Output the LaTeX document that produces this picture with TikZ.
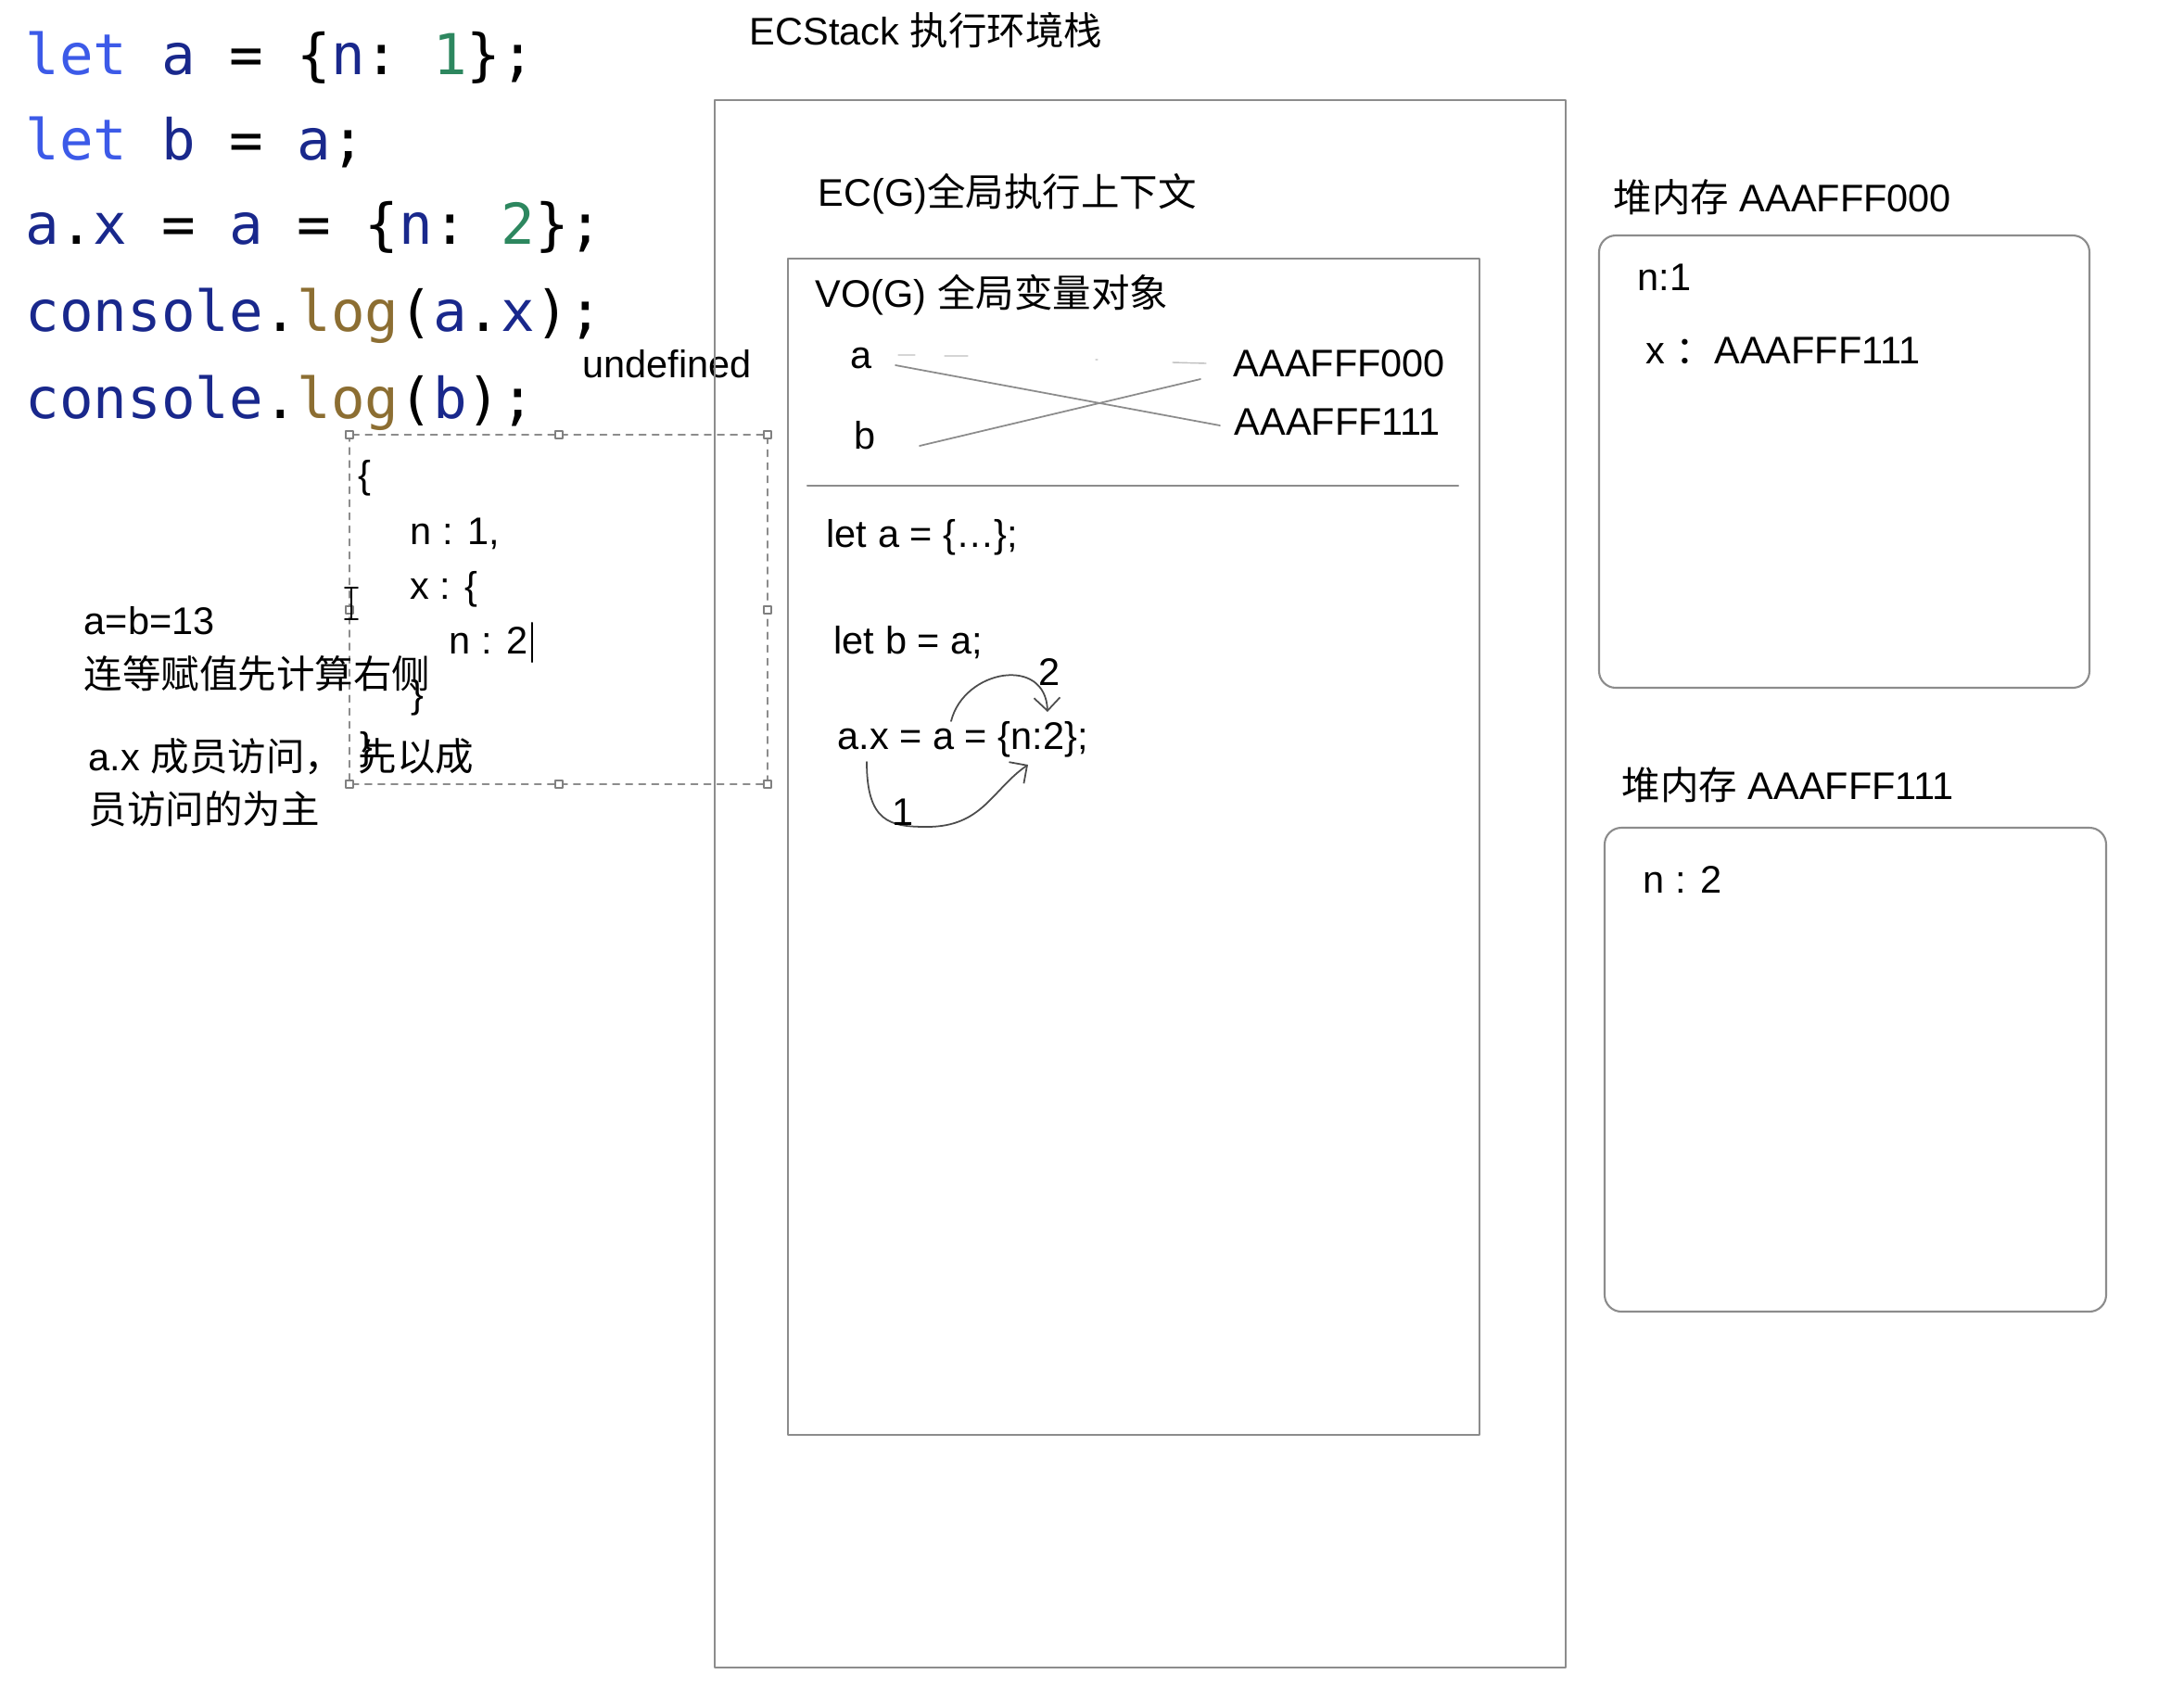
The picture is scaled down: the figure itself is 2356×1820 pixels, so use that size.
\documentclass[tikz,border=0pt]{standalone}
\usepackage{fontspec}
\setmainfont{Liberation Sans}
\newfontfamily\cjk{Noto Sans CJK SC}
\newfontfamily\codefont{DejaVu Sans Mono}
\usetikzlibrary{arrows.meta}
\definecolor{kwblue}{RGB}{60,90,232}
\definecolor{idnavy}{RGB}{25,40,140}
\definecolor{numgreen}{RGB}{45,135,95}
\definecolor{fnbrown}{RGB}{140,110,50}
\definecolor{linegray}{RGB}{140,140,140}
\newcommand{\jkw}[1]{\textcolor{kwblue}{#1}}
\newcommand{\jid}[1]{\textcolor{idnavy}{#1}}
\newcommand{\jnum}[1]{\textcolor{numgreen}{#1}}
\newcommand{\jfn}[1]{\textcolor{fnbrown}{#1}}
\begin{document}
\begin{tikzpicture}[x=0.01cm, y=-0.01cm, line join=round, line cap=round,
  >={Straight Barb[length=0.14cm,width=0.28cm]},
  txt/.style={anchor=west, inner sep=0pt, yshift=-0.05cm, font=\fontsize{11.8}{14}\selectfont, text height=0.8em, text depth=0.2em},
  code/.style={anchor=west, inner sep=0pt, font=\fontsize{17.3}{20}\codefont\frenchspacing, text height=0.75em, text depth=0.25em},
  frame/.style={draw=linegray, line width=0.6pt},
  heap/.style={frame, rounded corners=0.18cm},
  hand/.style={draw=black!70, line width=0.5pt},
  handle/.style={draw=gray, fill=white, line width=0.4pt, minimum size=0.08cm, inner sep=0pt}]
\useasboundingbox (0,0) rectangle (2356,1820);

\node[code] (line1) at (27,72) {\jkw{let} \jid{a} = \{\jid{n}: \jnum{1}\};};
\node[code] (line2) at (27,164) {\jkw{let} \jid{b} = \jid{a};};
\node[code] (line3) at (27,255) {\jid{a}.\jid{x} = \jid{a} = \{\jid{n}: \jnum{2}\};};
\node[code] (line4) at (27,349) {\jid{console}.\jfn{log}(\jid{a}.\jid{x});};
\node[code] (line5) at (27,443) {\jid{console}.\jfn{log}(\jid{b});};
\node[txt] (undef) at (628,392) {undefined};

\draw[linegray, line width=0.5pt, dash pattern=on 2pt off 2pt] (377,469) rectangle (828,846);
\foreach \x/\y in {377/469,603/469,828/469,828/658,828/846,603/846,377/846,377/658}
  \node[handle] (h-\x-\y) at (\x,\y) {};
\draw[line width=0.5pt] (372,634) -- (386,634) (379,634) -- (379,668) (372,668) -- (386,668);
\node[txt] (obrace) at (386,511) {\{};
\node[txt] (propn) at (442,572) {n : 1,};
\node[txt] (propx) at (442,631) {x : \{};
\node[txt] (propn2) at (484,690) {n : 2};
\draw[line width=0.6pt] (574,672) -- (574,714);
\node[txt] (cbrace1) at (443,748) {\}};
\node[txt] (cbrace2) at (388,804) {\}};

\node[txt] (note1) at (90,669) {a=b=13};
\node[txt] (note2) at (90,727) {\cjk 连等赋值先计算右侧};
\node[txt] (note3) at (95,816) {a.x {\cjk 成员访问，\hspace{0.4em}先以成}};
\node[txt] (note4) at (95,873) {\cjk 员访问的为主};

\node[txt] (ecstack) at (808,33) {ECStack {\cjk 执行环境栈}};
\draw[frame] (771,108) rectangle (1689,1799);
\node[txt] (ecg) at (882,207) {EC(G){\cjk 全局执行上下文}};
\draw[frame] (850,279) rectangle (1596,1548);
\node[txt] (vog) at (879,316) {VO(G) {\cjk 全局变量对象}};
\node[txt] (vara) at (917,382) {a};
\node[txt] (varb) at (921,469) {b};
\node[txt] (addr000) at (1330,391) {AAAFFF000};
\node[txt] (addr111) at (1331,454) {AAAFFF111};
\coordinate (pa) at (966,394);
\coordinate (pb) at (992,481);
\coordinate (pc) at (1295,409);
\draw[linegray, line width=0.5pt] (pa) -- ([xshift=-0.15cm]addr111.west);
\draw[linegray, line width=0.5pt] (pb) -- (pc);
\draw[black!25, line width=0.4pt] (969,383) -- (987,383) (1019,384) -- (1044,384) (1182,388) -- (1184,388) (1265,391) -- (1301,392);
\draw[frame] (871,524) -- (1573,524);

\node[txt] (leta) at (891,575) {let a = \{…\};};
\node[txt] (letb) at (899,690) {let b = a;};
\node[txt] (assign) at (903,793) {a.x = a = \{n:2\};};
\coordinate (s2) at (1026,778);
\coordinate (e2) at (1130,768);
\draw[hand, ->] (s2) .. controls (1040,722) and (1128,707) .. (e2);
\node[txt, anchor=center] (two) at (1132,724) {2};
\coordinate (s1) at (935,822);
\coordinate (e1) at (1109,825);
\draw[hand, ->] (s1) .. controls (935,887) and (960,892) .. (1000,892) .. controls (1060,892) and (1070,852) .. (e1);
\node[txt, anchor=center] (one) at (974,875) {1};

\node[txt] (heap1title) at (1740,213) {{\cjk 堆内存} AAAFFF000};
\draw[heap] (1725,254) rectangle (2254,742);
\node[txt] (heap1n) at (1766,298) {n:1};
\node[txt] (heap1x) at (1775,377) {x {\cjk ：}AAAFFF111};
\node[txt] (heap2title) at (1749,847) {{\cjk 堆内存} AAAFFF111};
\draw[heap] (1731,893) rectangle (2272,1415);
\node[txt] (heap2n) at (1772,948) {n : 2};
\end{tikzpicture}
\end{document}
